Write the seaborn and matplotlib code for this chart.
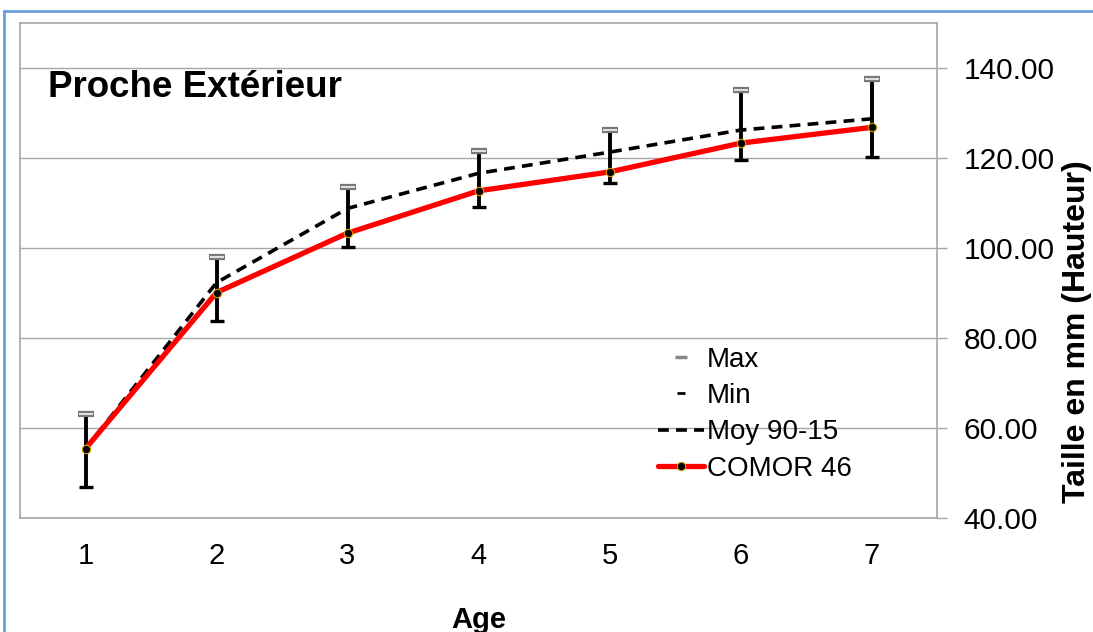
import matplotlib
matplotlib.use("Agg")
import matplotlib.pyplot as plt
import matplotlib.patches as patches
from matplotlib.lines import Line2D
import pandas as pd
import seaborn as sns

# values
age = [1, 2, 3, 4, 5, 6, 7]
comor_46 = [55.4, 90.1, 103.3, 112.7, 116.9, 123.3, 126.8]
moy_90_15 = [55.4, 92.3, 108.8, 116.6, 121.3, 126.2, 128.7]
val_max = [63.1, 98.0, 113.5, 121.6, 126.2, 135.1, 137.5]
val_min = [47.0, 83.8, 100.2, 109.1, 114.4, 119.6, 120.2]
y_ticks = [40, 60, 80, 100, 120, 140]

df = pd.DataFrame({"Age": age, "COMOR 46": comor_46, "Moy 90-15": moy_90_15,
                   "Max": val_max, "Min": val_min})

sns.set_style("white")
plt.rcParams['font.family'] = ['Liberation Sans', 'DejaVu Sans']
plt.rcParams['text.color'] = 'black'
plt.rcParams['axes.labelcolor'] = 'black'
plt.rcParams['xtick.labelcolor'] = 'black'
plt.rcParams['ytick.labelcolor'] = 'black'

fig = plt.figure(figsize=(10.93, 6.32), dpi=100)
ax = fig.add_axes([20 / 1093, 1 - 518 / 632, 917 / 1093, 495 / 632])

# blue outer frame
fig.patches.append(patches.Rectangle((4 / 1093, -0.2), 1.2, 1 - 11 / 632 + 0.2,
                                     transform=fig.transFigure, fill=False,
                                     edgecolor='#6a9fd8', linewidth=2))

grid_col = '#a6a6a6'

# high-low lines between max and min
ax.vlines(df["Age"], df["Min"], df["Max"], color='black', linewidth=2.8, zorder=3)

sns.lineplot(data=df, x="Age", y="Moy 90-15", ax=ax, color='black',
             linewidth=2.6, linestyle=(0, (3, 2)), zorder=4)
sns.lineplot(data=df, x="Age", y="COMOR 46", ax=ax, color='#ff0000',
             linewidth=3.8, marker='o', markersize=6, markerfacecolor='black',
             markeredgecolor='#d4a000', markeredgewidth=0.8, zorder=5)

# max / min caps
sns.scatterplot(data=df, x="Age", y="Max", ax=ax, marker='_', s=130,
                color='#777777', linewidth=4.5, zorder=6)
sns.scatterplot(data=df, x="Age", y="Max", ax=ax, marker='_', s=90,
                color='#e0e0e0', linewidth=1.5, zorder=7)
sns.scatterplot(data=df, x="Age", y="Min", ax=ax, marker='_', s=110,
                color='black', linewidth=2.4, zorder=6)

ax.set_xlim(0.5, 7.5)
ax.set_ylim(40, 150)
ax.set_yticks(y_ticks)
ax.set_yticklabels([f"{v:.2f}" for v in y_ticks])
ax.yaxis.tick_right()
ax.set_xticks(age)
ax.set_xticks([a - 0.5 for a in age] + [7.5], minor=True)
ax.tick_params(axis='x', which='major', length=0, labelsize=21, pad=17)
ax.tick_params(axis='x', which='minor', length=7, color=grid_col, width=1)
ax.tick_params(axis='y', which='major', right=True, left=False, length=7,
               color=grid_col, width=1, labelsize=21.5, pad=12)

ax.grid(axis='y', color=grid_col, linewidth=1)
ax.set_axisbelow(True)
for side in ax.spines.values():
    side.set_color(grid_col)
    side.set_linewidth(1.2)

ax.set_xlabel("Age", fontsize=21, fontweight='bold', labelpad=26)
ax.set_ylabel("")
fig.text(1077 / 1093, 1 - 332 / 632, "Taille en mm (Hauteur)", rotation=90,
         fontsize=23, fontweight='bold', ha='center', va='center')

ax.text(28 / 917, (518 - 97) / 495, "Proche Extérieur", transform=ax.transAxes,
        fontsize=26.5, fontweight='bold', va='baseline', ha='left')

handles = [
    Line2D([], [], linestyle='none', marker='_', markersize=9, color='#888888',
           markeredgewidth=2.5),
    Line2D([], [], linestyle='none', marker='_', markersize=6, color='black',
           markeredgewidth=2),
    Line2D([], [], color='black', linewidth=2.6, linestyle=(0, (3, 2))),
    Line2D([], [], color='#ff0000', linewidth=3.8, marker='o', markersize=6,
           markerfacecolor='black', markeredgecolor='#d4a000', markeredgewidth=0.8),
]
ax.legend(handles, ["Max", "Min", "Moy 90-15", "COMOR 46"], loc='upper left',
          bbox_to_anchor=(0.696, 0.346), frameon=False, fontsize=20,
          handlelength=1.65, handletextpad=0.1, labelspacing=0.37,
          borderpad=0, borderaxespad=0)

fig.savefig("out.png", dpi=100)
